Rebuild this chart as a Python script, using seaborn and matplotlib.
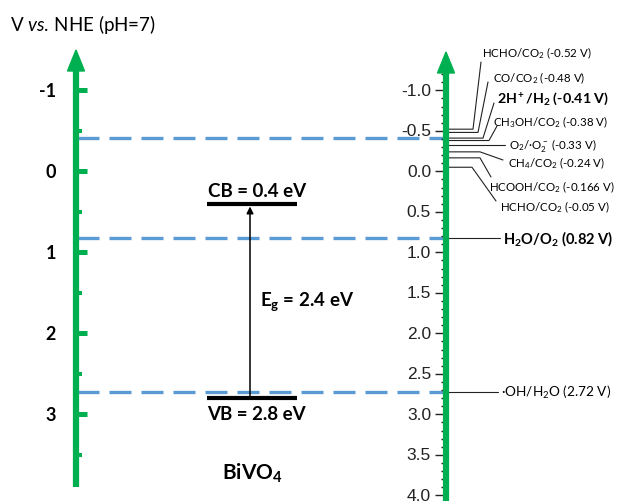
import numpy as np
import pandas as pd
import matplotlib
matplotlib.use("Agg")
import matplotlib.pyplot as plt
from matplotlib.patches import Polygon
import seaborn as sns

# ---------------- data ----------------
left_major_ticks = [-1, 0, 1, 2, 3]
left_minor_ticks = [-0.5, 0.5, 1.5, 2.5, 3.5]
right_major_ticks = [-1.0, -0.5, 0.0, 0.5, 1.0, 1.5, 2.0, 2.5, 3.0, 3.5, 4.0]
cb_level = 0.4
vb_level = 2.8
band_gap = 2.4
material = "BiVO$_4$"
title = "V $\\mathit{vs.}\\,$NHE (pH=7)"

co2_couples = ["HCHO/CO$_2$", "CO/CO$_2$", "2H$^+$/H$_2$", "CH$_3$OH/CO$_2$",
               "O$_2$/·O$_2^-$", "CH$_4$/CO$_2$", "HCOOH/CO$_2$", "HCHO/CO$_2$"]
co2_potentials = [-0.52, -0.48, -0.41, -0.38, -0.33, -0.24, -0.166, -0.05]
water_couples = ["H$_2$O/O$_2$", "·OH/H$_2$O"]
water_potentials = [0.82, 2.72]
reference_levels = [-0.41, 0.82, 2.72]

# ---------------- layout (pixels) ----------------
PX0, PXV = 172.3, 81.0          # pixel row of 0 V, pixels per volt


def v(py):
    return (py - PX0) / PXV


GREEN = "#00B050"
BLUE = "#5B9BD5"
LX, RX = 76, 446

# leader geometry for CO2 couples: bend x, end point (x, y px) or None, label (x, y px)
bend_x = [473, 478, 483, 489, 505, 480, 480, 472]
end_pts = [(481, 63), (488, 83), (494, 104), (497, 127), None, (503, 161), (491, 178), (496, 202)]
label_pts = [(482, 53), (493, 78), (497, 99), (493, 122), (509, 146), (508, 163), (489, 187), (500, 207)]
label_bold = [False, False, True, False, False, False, False, False]
water_label_x = [503, 501]
water_bold = [True, False]

sns.set_theme(style="white")
plt.rcParams["font.family"] = ["Lato", "DejaVu Sans"]
plt.rcParams.update({
    "mathtext.fontset": "custom",
    "mathtext.rm": "Lato",
    "mathtext.it": "Lato:italic",
    "mathtext.bf": "Lato:bold",
    "mathtext.default": "regular",
})

fig = plt.figure(figsize=(6.17, 5.02), dpi=100)
ax = fig.add_axes([0, 0, 1, 1])

# dashed reference levels (seaborn)
dash_df = pd.DataFrame({
    "x": [LX + 1, RX] * len(reference_levels),
    "V": np.repeat(reference_levels, 2),
    "level": np.repeat(np.arange(len(reference_levels)), 2),
})
sns.lineplot(data=dash_df, x="x", y="V", units="level", estimator=None, sort=False,
             color=BLUE, lw=2.4, linestyle=(0, (6.6, 3.0)), legend=False, ax=ax, zorder=1)

# ---- left scale ----
ax.plot([LX, LX], [v(70), v(488)], color=GREEN, lw=4.5, solid_capstyle="butt", zorder=3)
ax.add_patch(Polygon([(LX, v(51)), (LX - 8.5, v(72)), (LX + 8.5, v(72))], closed=True,
                     color=GREEN, zorder=3))
for t in left_major_ticks:
    ax.plot([LX, LX + 11], [t, t], color=GREEN, lw=3.6, solid_capstyle="butt", zorder=3)
    ax.text(56, t, f"{t:g}", ha="right", va="center", fontsize=13, fontweight="bold",
            color="black")
for t in left_minor_ticks:
    ax.plot([LX, LX + 6], [t, t], color=GREEN, lw=2.9, solid_capstyle="butt", zorder=3)

# ---- right scale ----
for t in np.round(np.arange(-1.2, 4.05, 0.1), 2):
    is_major = any(abs(t - m) < 1e-6 for m in right_major_ticks)
    x0 = RX - 11 if is_major else RX - 5
    ax.plot([x0, RX], [t, t], color="#222222", lw=1.0, solid_capstyle="butt", zorder=2)
for t in right_major_ticks:
    ax.text(431, t, f"{t:.1f}", ha="right", va="center", fontsize=12.5,
            family="Liberation Sans", color="#222222")
ax.plot([RX, RX], [v(72), v(510)], color=GREEN, lw=4.5, solid_capstyle="butt", zorder=3)
ax.add_patch(Polygon([(RX, v(53)), (RX - 8.5, v(74)), (RX + 8.5, v(74))], closed=True,
                     color=GREEN, zorder=3))

# ---- CO2 reduction couples ----
for name, pot, bx, ep, lp, bold in zip(co2_couples, co2_potentials, bend_x, end_pts,
                                       label_pts, label_bold):
    xs, ys = [RX, bx], [pot, pot]
    if ep is not None:
        xs.append(ep[0])
        ys.append(v(ep[1]))
    ax.plot(xs, ys, color="#222222", lw=0.8, zorder=2)
    ax.text(lp[0], v(lp[1]), f"{name} ({pot:g} V)", ha="left", va="center",
            fontsize=10.3 if bold else 8.3, fontweight="bold" if bold else "normal",
            color="black")

# ---- water couples ----
for name, pot, lx, bold in zip(water_couples, water_potentials, water_label_x, water_bold):
    ax.plot([RX, lx - 3], [pot, pot], color="#222222", lw=0.8, zorder=2)
    ax.text(lx, pot, f"{name} ({pot:g} V)", ha="left", va="center",
            fontsize=10.5 if bold else 9.8, fontweight="bold" if bold else "normal",
            color="black")

# ---- band edges ----
ax.plot([207, 297], [cb_level, cb_level], color="black", lw=3, solid_capstyle="butt", zorder=4)
ax.plot([207, 297], [vb_level, vb_level], color="black", lw=3, solid_capstyle="butt", zorder=4)
ax.annotate("", xy=(250, cb_level), xytext=(250, vb_level),
            arrowprops=dict(arrowstyle="-|>", color="black", lw=1.1, shrinkA=0, shrinkB=2,
                            mutation_scale=10), zorder=4)
ax.text(208, v(192), f"CB = {cb_level:g} eV", ha="left", va="center", fontsize=13.5,
        fontweight="bold", color="black")
ax.text(207, v(415), f"VB = {vb_level:g} eV", ha="left", va="center", fontsize=13.5,
        fontweight="bold", color="black")
ax.text(260, v(302), f"E$_g$ = {band_gap:g} eV", ha="left", va="center", fontsize=13.5,
        fontweight="bold", color="black")
ax.text(222, v(473), material, ha="left", va="center", fontsize=15, fontweight="bold",
        color="black")

ax.text(10, v(25), title, ha="left", va="center", fontsize=13.5, color="black")

ax.set_xlim(0, 617)
ax.set_ylim(v(502), v(0))
ax.axis("off")

fig.savefig("out.png", dpi=100)
